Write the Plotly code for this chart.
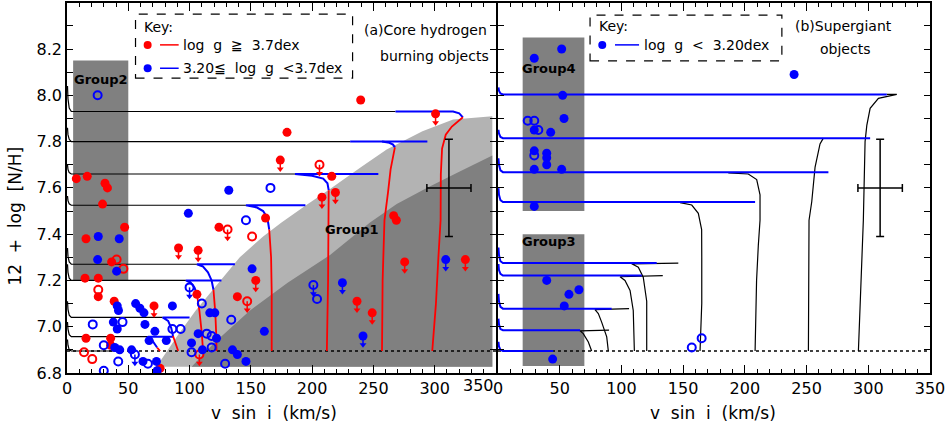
import plotly.graph_objects as go

FONT = "DejaVu Sans"
RED = "#ff0000"
BLUE = "#0000ff"
DARK = "#808080"
LIGHT = "#b3b3b3"

# ---------------- data ----------------
# panel (a): core hydrogen burning objects, points as (v sin i, 12+log N/H)
red_filled = [(7.6, 7.64), (16.5, 7.65), (31, 7.62), (33, 7.60), (29, 7.53), (47, 7.43),
              (15.5, 7.38), (36.4, 7.28), (14.7, 7.21), (25.5, 7.21), (25.5, 7.13),
              (38.5, 7.11), (15.5, 6.95), (35.6, 6.95), (35.6, 6.92), (76, 6.82),
              (106, 7.14), (139, 7.13), (124, 7.43), (162, 7.47), (179.5, 7.84),
              (239.6, 7.98), (216, 7.65), (266.5, 7.48), (268.7, 7.46)]
red_filled_lim = [(91, 7.34), (107, 7.33), (71, 7.09), (154, 7.20), (174, 7.72), (208, 7.56),
                  (219, 7.58), (300.7, 7.92), (275.5, 7.28), (325, 7.29), (236.6, 7.11),
                  (249, 7.06)]
red_open = [(40.5, 7.29), (46, 7.25), (25.5, 7.16), (13.9, 6.89), (20.6, 6.86), (151, 7.39)]
red_open_lim = [(131, 7.42), (206, 7.70), (147, 7.11), (108, 6.88)]
blue_filled = [(132, 7.59), (99, 7.49), (25.5, 7.39), (42.6, 7.38), (25, 7.29), (40.5, 7.24),
               (151, 7.25), (41, 7.09), (42, 7.07), (56, 7.10), (59.5, 7.08), (62.8, 7.06),
               (86, 7.09), (116.5, 7.06), (120.6, 7.06), (37.8, 7.02), (41, 6.99), (63.6, 7.01),
               (71.7, 6.98), (81, 6.94), (101.6, 6.93), (107, 6.97), (122, 6.95), (161, 6.98),
               (39, 6.91), (43, 6.90), (67, 6.94), (52.7, 6.90), (62, 6.85), (73, 6.85),
               (110.5, 6.90), (135, 6.90), (139, 6.88), (146, 6.85)]
blue_filled_lim = [(309, 7.29), (224.7, 7.19), (241.5, 6.96), (73.5, 6.81)]
blue_open = [(25, 8.00), (146, 7.46), (166, 7.60), (110, 7.10), (134, 7.03), (21, 7.01),
             (45.3, 7.02), (30, 6.92), (86, 6.99), (92.7, 6.99), (114, 6.97), (118, 6.96),
             (118, 6.91), (101.6, 6.89), (41.8, 6.85), (30, 6.81), (66, 6.84), (129, 6.84),
             (204, 7.12)]
blue_open_lim = [(100, 7.17), (201, 7.18), (55.4, 6.88)]

# panel (b): supergiants
sg_filled = [(51.6, 8.20), (29.4, 8.16), (239.9, 8.09), (52.4, 8.00), (53.5, 7.90),
             (29.4, 7.85), (42.7, 7.84), (29.4, 7.76), (39.5, 7.75), (39.5, 7.73),
             (39.5, 7.70), (29.4, 7.68), (51.6, 7.68), (29.4, 7.52), (39.5, 7.20),
             (65.6, 7.16), (57.5, 7.14), (53.7, 7.09), (44.3, 6.86)]
sg_open = [(24.1, 7.89), (29.4, 7.89), (32.7, 7.85), (29.4, 7.74), (157, 6.91), (165, 6.95)]

# typical error bars (center x, center y, x error, y error)
err_a = (311.6, 7.60, 18, 0.21)
err_b = (309.6, 7.60, 18, 0.21)

# rotating model tracks, panel (a)
left_black = [
    ([0.4, 0.8, 1.8, 3.5, 268], [8.04, 7.985, 7.945, 7.93, 7.93]),
    ([0.4, 0.8, 1.8, 3.5, 231], [7.86, 7.83, 7.81, 7.80, 7.80]),
    ([0.4, 0.8, 1.8, 3.5, 186], [7.70, 7.68, 7.666, 7.66, 7.66]),
    ([0.4, 0.8, 1.8, 3.5, 146], [7.565, 7.545, 7.531, 7.525, 7.525]),
    ([0.4, 0.8, 1.8, 3.5, 106], [7.34, 7.305, 7.28, 7.27, 7.27]),
    ([0.4, 0.8, 1.8, 3.5, 97], [7.27, 7.235, 7.21, 7.20, 7.20]),
    ([0.4, 0.8, 1.8, 3.5, 78], [7.11, 7.075, 7.05, 7.04, 7.04]),
    ([0.4, 0.8, 1.8, 3.5, 66], [7.02, 6.99, 6.966, 6.957, 6.957]),
    ([0.4, 0.8, 1.8, 3.5, 39], [6.945, 6.92, 6.90, 6.895, 6.895]),
]
left_blue = [
    ([268, 315, 320, 323], [7.93, 7.93, 7.922, 7.905]),
    ([231, 294, None, 257, 263, 266, 267.5], [7.80, 7.80, None, 7.80, 7.795, 7.787, 7.775]),
    ([254, 186, 200, 209, 212.5, 213.5], [7.66, 7.66, 7.652, 7.64, 7.62, 7.59]),
    ([194.5, 146, 155, 160, 163.5, 165], [7.525, 7.525, 7.515, 7.50, 7.47, 7.42]),
    ([137, 106, 111, 115, 118, 119.5], [7.27, 7.27, 7.26, 7.235, 7.20, 7.16]),
    ([126, 97, 101, 104, 106], [7.20, 7.20, 7.19, 7.17, 7.14]),
    ([100, 78, 82.5, 85, 86.5], [7.04, 7.04, 7.025, 6.995, 6.96]),
    ([87, 66, 69, 72, 73.5], [6.957, 6.957, 6.945, 6.925, 6.91]),
]
left_red = [
    ([323, 314, 309, 306, 305, 304.8, 303, 301, 298], [7.905, 7.865, 7.83, 7.77, 7.66, 7.46, 7.3, 7.1, 6.895]),
    ([267.5, 266, 264, 262, 259, 257.5, 257], [7.775, 7.74, 7.68, 7.585, 7.46, 7.2, 6.895]),
    ([213.5, 213.5, 213, 212], [7.59, 7.45, 7.2, 6.895]),
    ([165, 166.5, 167, 167], [7.42, 7.3, 7.15, 6.895]),
    ([119.5, 121, 121.8, 122], [7.16, 7.06, 6.96, 6.895]),
    ([106, 108, 110, 111], [7.14, 7.07, 6.97, 6.895]),
    ([86.5, 88.5, 90.7], [6.96, 6.925, 6.895]),
    ([73.5, 75, 76], [6.91, 6.9, 6.895]),
]

# tracks, panel (b)
right_black = [
    ([292, 294, 296, 297.4, 298.8, 301.5, 308.2, 323.1, 315], [6.895, 7.2, 7.46, 7.80, 7.87, 7.944, 7.987, 8.004, 8.004]),
    ([251.5, 251.6, 252, 254.2, 256.9, 260.9, 263.6], [6.895, 7.2, 7.46, 7.54, 7.69, 7.79, 7.815]),
    ([208.3, 209.5, 210.9, 212.3, 212.3, 209.6, 202.8, 186.6], [6.895, 7.2, 7.35, 7.46, 7.57, 7.636, 7.66, 7.665]),
    ([163.7, 165.1, 165.1, 165, 162.3, 157, 147.5], [6.895, 7.1, 7.3, 7.42, 7.49, 7.526, 7.536]),
    ([120.5, 120.5, 117.7, 113.7, 108.3, 146.1], [6.895, 7.11, 7.214, 7.257, 7.272, 7.275]),
    ([110.5, 109.6, 107, 102.9, 98.9, 133.5], [6.895, 7.07, 7.157, 7.2, 7.216, 7.221]),
    ([89.4, 88.1, 84, 81.3, 78.6, 106.2], [6.895, 6.956, 7.02, 7.057, 7.074, 7.078]),
    ([75.9, 73.2, 69.1, 66.5, 90], [6.895, 6.934, 6.97, 6.982, 6.985]),
]
right_blue = [
    ([0.4, 0.8, 2, 4, 315], [8.034, 8.02, 8.008, 8.004, 8.004]),
    ([0.4, 0.8, 2, 4, 301.5], [7.851, 7.835, 7.82, 7.815, 7.815]),
    ([0.4, 0.8, 2, 4, 267.7], [7.728, 7.70, 7.676, 7.668, 7.668]),
    ([0.4, 0.8, 2, 4, 208.3], [7.599, 7.57, 7.547, 7.539, 7.539]),
    ([0.4, 0.8, 2, 4, 128.6], [7.342, 7.31, 7.283, 7.275, 7.275]),
    ([0.4, 0.8, 2, 4, 116.5], [7.271, 7.245, 7.228, 7.221, 7.221]),
    ([0.4, 0.8, 2, 4, 92.1], [7.142, 7.11, 7.086, 7.078, 7.078]),
    ([0.4, 0.8, 2, 4, 66.5], [7.035, 7.01, 6.99, 6.985, 6.985]),
    ([0.4, 0.8, 2, 4, 44.8], [6.935, 6.915, 6.9, 6.895, 6.895]),
]

# baseline (initial abundance) and shaded Group1 zones
baseline_y = 6.895
light_edge_x = [73, 90, 105, 123.5, 141, 160, 175, 195, 214.6, 240, 260.8, 290, 315, 347]
light_edge_y = [6.827, 6.96, 7.07, 7.19, 7.30, 7.39, 7.45, 7.525, 7.595, 7.69, 7.766, 7.845, 7.895, 7.91]
dark_edge_x = [101.7, 120, 149.3, 180, 214.6, 247.2, 269, 293.5, 320, 347]
dark_edge_y = [6.827, 6.93, 7.07, 7.19, 7.31, 7.45, 7.53, 7.60, 7.67, 7.74]

# group boxes: (axis, x0, x1, y0, y1, label, label x, label y)
groups = [
    ("", 5, 50, 7.20, 8.15, "Group2", 27.6, 8.07),
    ("2", 20, 70, 7.50, 8.25, "Group4", 41.4, 8.117),
    ("2", 20, 70, 6.83, 7.40, "Group3", 41.4, 7.368),
]
group1_label = ("Group1", 232.3, 7.419)

fig = go.Figure()


def add_paths(paths, color, width, ax, dash=None):
    for xs, ys in paths:
        fig.add_trace(go.Scatter(x=xs, y=ys, mode="lines", xaxis="x" + ax, yaxis="y" + ax,
                                 line=dict(color=color, width=width, dash=dash),
                                 hoverinfo="skip", showlegend=False))


def add_points(pts, color, filled, ax):
    fig.add_trace(go.Scatter(
        x=[p[0] for p in pts], y=[p[1] for p in pts], mode="markers",
        xaxis="x" + ax, yaxis="y" + ax, hoverinfo="skip", showlegend=False,
        marker=dict(symbol="circle" if filled else "circle-open", color=color,
                    size=9 if filled else 8, line=dict(width=0 if filled else 2, color=color))))


def add_limits(pts, color, ax):
    # downward arrows below upper-limit points
    xs, ys = [], []
    for x, y in pts:
        xs += [x, x, None]
        ys += [y, y - 0.04, None]
    fig.add_trace(go.Scatter(x=xs, y=ys, mode="lines", xaxis="x" + ax, yaxis="y" + ax,
                             line=dict(color=color, width=1.5), hoverinfo="skip", showlegend=False))
    fig.add_trace(go.Scatter(x=[p[0] for p in pts], y=[p[1] - 0.038 for p in pts], mode="markers",
                             xaxis="x" + ax, yaxis="y" + ax, hoverinfo="skip", showlegend=False,
                             marker=dict(symbol="triangle-down", size=6, color=color)))


# shaded zones
fig.add_trace(go.Scatter(x=light_edge_x + [light_edge_x[-1]], y=light_edge_y + [light_edge_y[0]],
                         fill="toself", fillcolor=LIGHT, mode="lines", line=dict(width=0),
                         hoverinfo="skip", showlegend=False))
fig.add_trace(go.Scatter(x=dark_edge_x + [dark_edge_x[-1]], y=dark_edge_y + [dark_edge_y[0]],
                         fill="toself", fillcolor=DARK, mode="lines", line=dict(width=0),
                         hoverinfo="skip", showlegend=False))

# dotted baseline in both panels
for ax in ["", "2"]:
    add_paths([([0, 350], [baseline_y, baseline_y])], "black", 1.5, ax, dash="dot")

add_paths(left_black, "black", 1.2, "")
add_paths(left_blue, BLUE, 2, "")
add_paths(left_red, RED, 1.8, "")
add_paths(right_black, "black", 1.2, "2")
add_paths(right_blue, BLUE, 2, "2")

add_limits(red_filled_lim + red_open_lim, RED, "")
add_limits(blue_filled_lim + blue_open_lim, BLUE, "")
add_points(red_filled + red_filled_lim, RED, True, "")
add_points(red_open + red_open_lim, RED, False, "")
add_points(blue_filled + blue_filled_lim, BLUE, True, "")
add_points(blue_open + blue_open_lim, BLUE, False, "")
add_points(sg_filled, BLUE, True, "2")
add_points(sg_open, BLUE, False, "2")

for ax, (ex, ey, dx, dy) in [("", err_a), ("2", err_b)]:
    fig.add_trace(go.Scatter(x=[ex], y=[ey], mode="markers", xaxis="x" + ax, yaxis="y" + ax,
                             marker=dict(size=1, color="rgba(0,0,0,0)"), hoverinfo="skip",
                             showlegend=False,
                             error_x=dict(type="constant", value=dx, color="black", thickness=1.5, width=4),
                             error_y=dict(type="constant", value=dy, color="black", thickness=1.5, width=4)))

shapes = []
annotations = []
for ax, x0, x1, y0, y1, label, lx, ly in groups:
    shapes.append(dict(type="rect", xref="x" + ax, yref="y" + ax, x0=x0, x1=x1, y0=y0, y1=y1,
                       fillcolor=DARK, line=dict(width=0), layer="below"))
    annotations.append(dict(xref="x" + ax, yref="y" + ax, x=lx, y=ly, text="<b>%s</b>" % label,
                            showarrow=False, font=dict(family=FONT, size=13, color="black")))
annotations.append(dict(xref="x", yref="y", x=group1_label[1], y=group1_label[2],
                        text="<b>%s</b>" % group1_label[0], showarrow=False,
                        font=dict(family=FONT, size=13, color="black")))

# legend boxes drawn by hand (dashed frames, dot + line glyphs)
shapes.append(dict(type="rect", xref="x", yref="y", x0=55.9, x1=233, y0=8.074, y1=8.351,
                   line=dict(color="black", width=1.2, dash="dash"), layer="above"))
shapes.append(dict(type="rect", xref="x2", yref="y2", x0=74.6, x1=230, y0=8.149, y1=8.347,
                   line=dict(color="black", width=1.2, dash="dash"), layer="above"))
legend_rows = [
    ("", RED, 65.8, 75.9, 91.1, 8.218, "log  g  \u2267  3.7dex"),
    ("", BLUE, 65.8, 75.9, 91.1, 8.117, "3.20\u2266  log  g  <3.7dex"),
    ("2", BLUE, 84.5, 94.8, 114.3, 8.218, "log  g  <  3.20dex"),
]
for ax, col, dx, lx0, lx1, ry, txt in legend_rows:
    shapes.append(dict(type="circle", xref="x" + ax, yref="y" + ax, xsizemode="pixel",
                       ysizemode="pixel", xanchor=dx, yanchor=ry, x0=-4, x1=4, y0=-4, y1=4,
                       fillcolor=col, line=dict(width=0)))
    shapes.append(dict(type="line", xref="x" + ax, yref="y" + ax, x0=lx0, x1=lx1, y0=ry, y1=ry,
                       line=dict(color=col, width=1.5)))
    annotations.append(dict(xref="x" + ax, yref="y" + ax, x=lx1 + 2, y=ry, text=txt, xanchor="left",
                            showarrow=False, font=dict(family=FONT, size=14, color="black")))
annotations.append(dict(xref="x", yref="y", x=61, y=8.297, text="Key:", xanchor="left",
                        showarrow=False, font=dict(family=FONT, size=14, color="black")))
annotations.append(dict(xref="x2", yref="y2", x=80, y=8.301, text="Key:", xanchor="left",
                        showarrow=False, font=dict(family=FONT, size=14, color="black")))

# panel titles
for ax, x, y, txt, anchor in [("", 344, 8.283, "(a)Core hydrogen", "right"),
                              ("", 345.7, 8.172, "burning objects", "right"),
                              ("2", 279.6, 8.301, "(b)Supergiant", "center"),
                              ("2", 281.2, 8.199, "objects", "center")]:
    annotations.append(dict(xref="x" + ax, yref="y" + ax, x=x, y=y, text=txt, xanchor=anchor,
                            showarrow=False, font=dict(family=FONT, size=14, color="black")))

# axis titles
annotations.append(dict(xref="paper", yref="y", x=-0.0603, y=7.48, text="12  +  log  [N/H]",
                        xanchor="center", yanchor="middle", textangle=-90, showarrow=False,
                        font=dict(family=FONT, size=17, color="black")))
for ax, x in [("", 169), ("2", 174)]:
    annotations.append(dict(xref="x" + ax, yref="paper", x=x, y=-0.108, text="v  sin  i  (km/s)",
                            xanchor="center", yanchor="middle", showarrow=False,
                            font=dict(family=FONT, size=17, color="black")))
# the last label of panel (a) sits flush against the panel edge
annotations.append(dict(xref="x", yref="paper", x=350, y=-0.033, text="350", xanchor="right",
                        yanchor="middle", showarrow=False,
                        font=dict(family=FONT, size=16, color="black")))

common_x = dict(ticks="inside", ticklen=8, tickwidth=1.2, tickcolor="black", showline=True,
                linecolor="black", linewidth=1.5, mirror="ticks", showgrid=False, zeroline=False,
                tickmode="linear", tick0=0, dtick=50,
                minor=dict(ticks="inside", ticklen=4, tickwidth=1, tickcolor="black", dtick=10, tick0=0),
                tickfont=dict(family=FONT, size=16, color="black"))
common_y = dict(ticks="inside", ticklen=6, tickwidth=1.2, tickcolor="black", showline=True,
                linecolor="black", linewidth=1.5, mirror="ticks", showgrid=False, zeroline=False,
                range=[6.8, 8.399], tickmode="linear", tick0=6.8, dtick=0.2, tickformat=".1f",
                minor=dict(ticks="inside", ticklen=6, tickwidth=1, tickcolor="black", dtick=0.1, tick0=6.8),
                tickfont=dict(family=FONT, size=16, color="black"))

fig.update_layout(
    width=946, height=429,
    margin=dict(l=67, r=16, t=1, b=56),
    paper_bgcolor="white", plot_bgcolor="white",
    showlegend=False,
    xaxis=dict(domain=[0, 0.4971], range=[0, 350], anchor="y", labelalias={"350": ""}, **common_x),
    xaxis2=dict(domain=[0.4994, 1], range=[0.01, 350], anchor="y2", **common_x),
    yaxis=dict(domain=[0, 1], anchor="x", **common_y),
    yaxis2=dict(domain=[0, 1], anchor="x2", showticklabels=False, **common_y),
    shapes=shapes,
    annotations=annotations,
)

# drop the browser's default page margin so the figure sits at the window corner
fig.write_html("out.html", config={"displayModeBar": False},
               post_script="document.body.style.margin='0px';")
